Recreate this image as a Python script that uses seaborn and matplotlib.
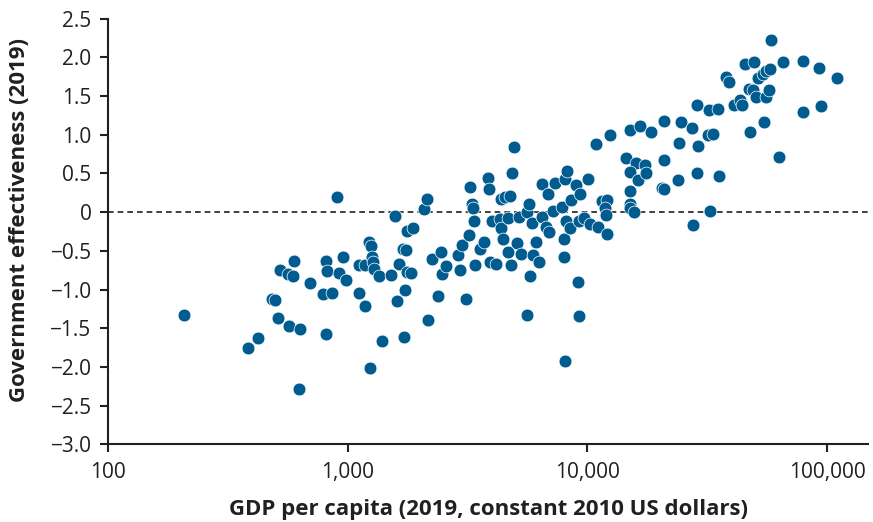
import matplotlib
matplotlib.use("Agg")
import matplotlib.pyplot as plt
import seaborn as sns
import pandas as pd

# GDP per capita (2019, constant 2010 US$) and government effectiveness (2019)
gdp = [207, 382, 421, 484, 498, 513, 521, 563, 588, 570, 598, 628, 632, 692,
       784, 857, 809, 811, 817, 899, 919, 958, 980, 1110, 1115, 1185, 1230,
       1250, 1258, 1278, 1292, 1343, 1180, 1238, 1390, 1510, 1574, 1600, 1640,
       1692, 1741, 1761, 1836, 1738, 1722, 1771, 1877, 2070, 2141, 2161, 2235,
       2368, 2449, 2473, 2570, 2884, 2926, 2997, 3099, 3214, 3246, 3299, 3321,
       3373, 3405, 3546, 3702, 3855, 3885, 3904, 4147, 3998, 4339, 4508, 4731,
       4318, 4340, 4457, 4640, 4677, 4799, 4845, 4954, 5069, 5182, 5283, 5581,
       5722, 5856, 5581, 5761, 5929, 6084, 6281, 6477, 6829, 6483, 6686, 6914,
       7166, 7291, 7812, 7948, 8000, 8063, 8063, 8203, 8124, 8460, 8558, 8988,
       9314, 9138, 9225, 9225, 9660, 10250, 11070, 10010, 10860, 11470, 12020,
       11900, 11990, 12020, 12430, 14560, 15060, 16000, 14990, 16260, 15030,
       15060, 15130, 15650, 16650, 17400, 17610, 18480, 20880, 20940, 20420,
       20940, 23830, 24170, 24600, 27410, 27670, 28670, 28860, 28800, 31950,
       33430, 32080, 35170, 32640, 35480, 37780, 38930, 41040, 43470, 44180,
       45600, 49440, 47350, 49200, 50640, 55640, 57100, 47540, 51520, 53960,
       55910, 57820, 54730, 58540, 63170, 65710, 79170, 79630, 92340, 94120,
       110100]
gov_eff = [-1.33, -1.75, -1.63, -1.12, -1.14, -1.37, -0.75, -0.80, -0.82, -1.47,
           -0.63, -2.28, -1.51, -0.92, -1.06, -1.04, -1.57, -0.63, -0.76, 0.19,
           -0.78, -0.58, -0.88, -0.68, -1.05, -0.68, -0.38, -0.44, -0.58, -0.64,
           -0.74, -0.83, -1.21, -2.02, -1.67, -0.81, -0.05, -1.15, -0.67, -0.47,
           -0.49, -0.77, -0.79, -1.00, -1.62, -0.24, -0.21, 0.04, 0.17, -1.39,
           -0.61, -1.09, -0.51, -0.80, -0.69, -0.55, -0.75, -0.42, -1.12, -0.29,
           0.32, 0.11, 0.06, -0.11, -0.68, -0.47, -0.38, 0.44, 0.30, -0.64,
           -0.67, -0.11, 0.17, 0.19, 0.21, -0.09, -0.20, -0.35, -0.07, -0.51,
           -0.68, 0.50, 0.84, -0.40, -0.06, -0.54, 0.00, 0.10, -0.14, -1.33,
           -0.83, -0.55, -0.38, -0.64, 0.36, 0.23, -0.06, -0.19, -0.26, 0.02,
           0.38, 0.07, -0.35, -0.58, -1.92, 0.43, 0.53, -0.12, -0.20, 0.16,
           0.35, 0.23, -0.90, -1.34, -0.12, -0.08, -0.15, -0.19, 0.43, 0.88,
           0.14, 0.16, 0.06, -0.04, -0.28, 1.00, 0.70, 1.06, 0.64, 0.52, 0.41,
           0.27, 0.11, 0.06, 0.00, 1.11, 0.61, 0.50, 1.04, 1.18, 0.68, 0.31,
           0.30, 0.41, 0.89, 1.16, 1.09, -0.16, 1.38, 0.86, 0.50, 1.00, 1.01,
           1.32, 1.33, 0.02, 0.47, 1.75, 1.68, 1.38, 1.45, 1.38, 1.91, 1.94,
           1.59, 1.58, 1.49, 1.49, 1.58, 1.03, 1.73, 1.79, 1.82, 1.85, 1.17,
           2.23, 0.71, 1.94, 1.95, 1.29, 1.86, 1.37, 1.73]

x_ticks = [100, 1000, 10000, 100000]
x_tick_labels = ["100", "1,000", "10,000", "100,000"]
y_ticks = [2.5, 2.0, 1.5, 1.0, 0.5, 0, -0.5, -1.0, -1.5, -2.0, -2.5, -3.0]
y_tick_labels = ["2.5", "2.0", "1.5", "1.0", "0.5", "0", "\u22120.5", "\u22121.0",
                 "\u22121.5", "\u22122.0", "\u22122.5", "\u22123.0"]
x_label = "GDP per capita (2019, constant 2010 US dollars)"
y_label = "Government effectiveness (2019)"

df = pd.DataFrame({"gdp": gdp, "ge": gov_eff})

sns.set_style("ticks")
plt.rcParams["font.family"] = ["Open Sans", "DejaVu Sans"]

fig = plt.figure(figsize=(8.73, 5.22), dpi=100)
ax = fig.add_axes([0.124, 0.149, 0.870, 0.815])

ax.axhline(0, color="#231f20", lw=1.2, ls=(0, (3.4, 2.4)), zorder=1)
sns.scatterplot(data=df, x="gdp", y="ge", ax=ax, color="#005B8F", s=85,
                edgecolor="white", linewidth=0.5, zorder=3, legend=False)

ax.set_xscale("log")
ax.set_xlim(100, 148000)
ax.set_ylim(-3.0, 2.5)
ax.set_xticks(x_ticks)
ax.set_xticklabels(x_tick_labels)
ax.minorticks_off()
ax.set_yticks(y_ticks)
ax.set_yticklabels(y_tick_labels)

for side in ["top", "right"]:
    ax.spines[side].set_visible(False)
for side in ["left", "bottom"]:
    ax.spines[side].set_color("#231f20")
    ax.spines[side].set_linewidth(1.5)
ax.tick_params(axis="both", colors="#231f20", labelcolor="#231f20",
               length=6, width=1.5, labelsize=15, direction="out")
ax.tick_params(axis="x", pad=7)
ax.tick_params(axis="y", pad=6)

ax.set_xlabel(x_label, fontsize=16, fontweight="bold", color="#231f20")
ax.set_ylabel(y_label, fontsize=16, fontweight="bold", color="#231f20")
ax.xaxis.set_label_coords(0.5, -0.128)
ax.yaxis.set_label_coords(-0.103, 0.527)

fig.savefig("out.png", dpi=100)
